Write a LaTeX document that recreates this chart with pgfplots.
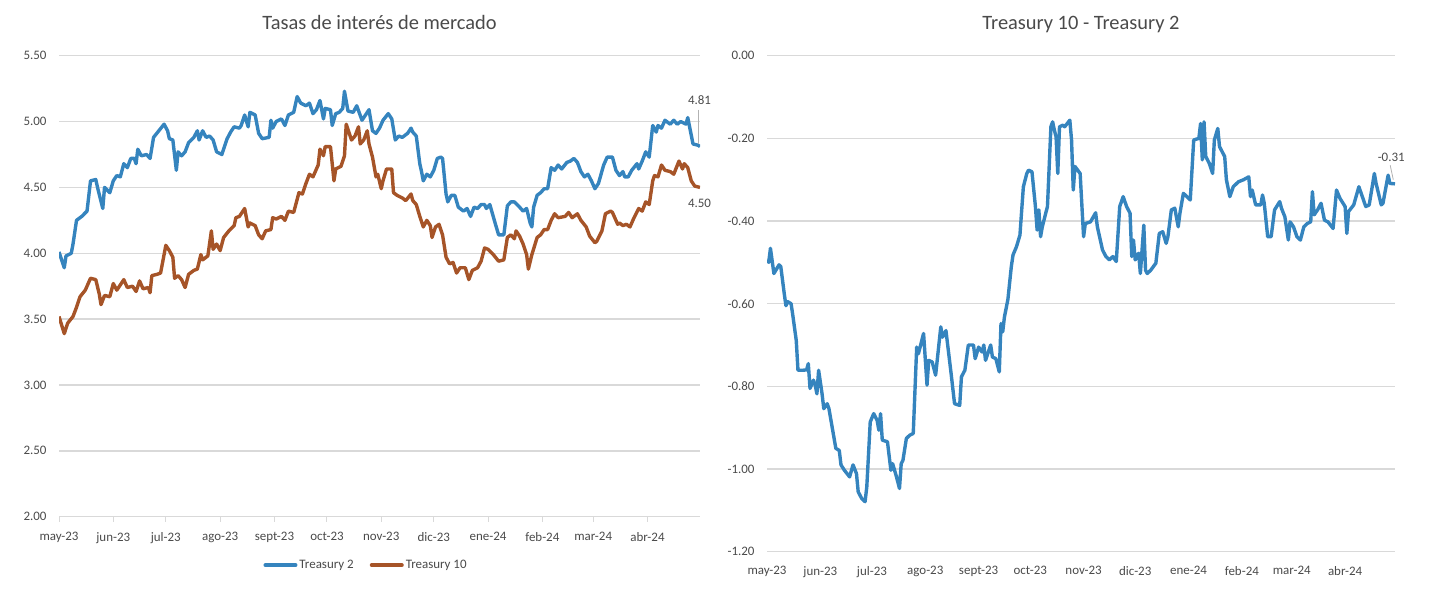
\documentclass[border=0pt]{standalone}
\usepackage{pgfplots}
\pgfplotsset{compat=1.18}
\usepackage{fontspec}
\setmainfont{Carlito}
\definecolor{tblue}{HTML}{3584BE}
\definecolor{tbrown}{HTML}{A65428}
\definecolor{txt}{HTML}{4A4A4A}
\definecolor{grd}{HTML}{D9D9D9}
\pgfplotsset{
  common/.style={
    scale only axis, clip mode=individual,
    axis x line*=bottom, axis y line*=left,
    y axis line style={draw=none},
    x axis line style={draw=grd, line width=1.5bp},
    ymajorgrids, grid style={draw=grd, line width=1.5bp},
    ytick style={draw=none},
    tick label style={font=\fontsize{13}{15}\selectfont, text=txt},
    yticklabel style={xshift=-9bp},
    /pgf/number format/assume math mode=true,
    yticklabel={\pgfmathprintnumber[fixed, fixed zerofill, precision=2]{\tick}},
    xtick={0,31,61,92,123,153,184,214,245,276,305,336},
    xticklabels={may-23,jun-23,jul-23,ago-23,sept-23,oct-23,nov-23,dic-23,ene-24,feb-24,mar-24,abr-24},
    title style={font=\fontsize{20.5}{24}\selectfont, text=txt, at={(0.5,1)}, anchor=base, yshift=20bp},
    every axis plot/.append style={line width=3.4bp, line join=round, no markers},
  }
}
\begin{document}
\begin{tikzpicture}
\path[use as bounding box] (0,0) rectangle (1432bp,602bp);
% Left chart
\begin{axis}[common,
  at={(59bp,85.3bp)}, anchor=south west,
  width=641bp, height=461bp,
  xmin=0, xmax=366, ymin=2, ymax=5.5,
  ytick={2,2.5,3,3.5,4,4.5,5,5.5},
  xtick style={draw=grd, line width=1bp},
  xtick align=outside, major tick length=5bp,
  xticklabel style={yshift=-7bp},
  title={Tasas de interés de mercado},
  legend style={at={(0.479,-0.105)}, anchor=center, draw=none, legend columns=2,
    font=\fontsize{13}{15}\selectfont, text=txt,
    /tikz/every even column/.append style={column sep=14bp}},
  legend image code/.code={\draw[#1, line width=4bp, line cap=round] (0bp,0bp) -- (30bp,0bp);},
]
\addplot[tblue] coordinates {
(0,4.01)(3,3.89)(4,3.98)(7,4.00)(8,4.07)(10,4.25)(13,4.28)(16,4.32)(18,4.55)(21,4.56)
(22,4.50)(25,4.34)(26,4.50)(29,4.46)(31,4.55)(33,4.59)(35,4.58)(37,4.68)(39,4.65)(41,4.72)
(43,4.72)(44,4.68)(45,4.79)(47,4.74)(50,4.75)(52,4.72)(54,4.88)(57,4.93)(60,4.98)(62,4.93)
(63,4.87)(65,4.86)(67,4.63)(68,4.77)(70,4.74)(72,4.77)(74,4.84)(77,4.88)(79,4.93)(80,4.86)
(82,4.93)(84,4.88)(86,4.89)(88,4.86)(90,4.77)(93,4.75)(96,4.87)(98,4.92)(100,4.96)(103,4.95)
(104,4.97)(106,5.05)(108,4.96)(109,5.07)(112,5.05)(114,4.91)(116,4.87)(120,4.88)(121,5.01)(122,4.95)
(124,5.00)(127,5.02)(129,4.97)(131,5.05)(134,5.07)(136,5.19)(138,5.14)(141,5.12)(143,5.14)(145,5.06)
(147,5.09)(149,5.16)(151,5.02)(152,5.10)(155,5.09)(156,4.97)(158,5.06)(160,5.07)(162,5.10)(163,5.23)
(165,5.08)(168,5.07)(170,5.12)(173,5.01)(174,5.03)(177,5.09)(179,4.93)(181,4.91)(183,4.95)(185,5.01)
(188,5.06)(190,5.02)(192,4.86)(194,4.89)(196,4.88)(199,4.91)(201,4.95)(202,4.92)(204,4.89)(206,4.68)
(207,4.62)(208,4.55)(210,4.60)(212,4.58)(214,4.63)(216,4.72)(218,4.73)(219,4.72)(221,4.45)(222,4.39)
(224,4.44)(226,4.44)(228,4.35)(231,4.32)(233,4.34)(235,4.28)(237,4.35)(239,4.34)(241,4.37)(243,4.37)
(244,4.34)(246,4.37)(249,4.23)(251,4.14)(254,4.14)(256,4.36)(258,4.39)(260,4.39)(263,4.35)(265,4.32)
(267,4.34)(269,4.23)(270,4.20)(271,4.35)(273,4.44)(275,4.46)(277,4.49)(279,4.49)(281,4.65)(283,4.63)
(285,4.67)(287,4.64)(290,4.69)(292,4.70)(294,4.72)(296,4.69)(298,4.62)(300,4.58)(302,4.60)(304,4.55)
(306,4.49)(308,4.53)(311,4.67)(313,4.73)(316,4.73)(318,4.63)(320,4.59)(322,4.62)(323,4.58)(325,4.58)
(327,4.63)(330,4.68)(331,4.64)(333,4.70)(335,4.77)(337,4.73)(339,4.97)(341,4.92)(342,4.97)(344,4.95)
(346,5.01)(349,4.98)(351,5.01)(353,4.98)(355,5.00)(358,4.98)(359,5.03)(362,4.83)(365,4.82)(366,4.81)
};
\addlegendentry{Treasury 2}
\addplot[tbrown] coordinates {
(0,3.52)(3,3.39)(5,3.47)(8,3.52)(10,3.59)(12,3.67)(15,3.72)(16,3.75)(18,3.81)(21,3.80)
(23,3.69)(24,3.61)(26,3.68)(29,3.67)(31,3.77)(33,3.72)(37,3.80)(39,3.74)(42,3.75)(44,3.71)
(46,3.79)(48,3.73)(51,3.74)(52,3.70)(53,3.83)(56,3.84)(58,3.85)(61,4.06)(63,4.02)(65,3.97)
(66,3.81)(68,3.83)(70,3.80)(72,3.74)(74,3.84)(77,3.87)(79,3.88)(81,3.99)(82,3.95)(85,3.98)
(87,4.17)(88,4.03)(90,4.07)(92,4.02)(94,4.12)(97,4.17)(100,4.21)(101,4.27)(103,4.28)(106,4.34)
(108,4.20)(109,4.23)(112,4.21)(114,4.14)(116,4.11)(118,4.17)(121,4.18)(122,4.27)(124,4.26)(127,4.28)
(129,4.25)(131,4.32)(134,4.31)(137,4.46)(139,4.45)(141,4.53)(143,4.60)(145,4.58)(148,4.67)(149,4.79)
(151,4.74)(152,4.81)(155,4.81)(157,4.55)(158,4.64)(161,4.66)(163,4.74)(164,4.98)(167,4.86)(169,4.89)
(171,4.96)(172,4.83)(174,4.86)(176,4.93)(177,4.83)(179,4.73)(181,4.58)(182,4.60)(184,4.49)(185,4.55)
(187,4.64)(190,4.64)(191,4.46)(193,4.44)(196,4.42)(198,4.40)(201,4.45)(202,4.40)(204,4.37)(206,4.28)
(208,4.20)(210,4.25)(212,4.21)(213,4.12)(215,4.20)(217,4.22)(219,4.14)(221,3.97)(223,3.92)(225,3.93)
(227,3.85)(229,3.89)(232,3.89)(234,3.80)(236,3.87)(239,3.89)(241,3.94)(243,4.04)(245,4.03)(248,3.99)
(251,3.94)(254,3.95)(256,4.12)(258,4.14)(260,4.11)(261,4.17)(263,4.13)(265,4.07)(267,3.99)(268,3.88)
(270,3.99)(273,4.12)(275,4.14)(277,4.18)(279,4.18)(281,4.25)(283,4.30)(285,4.27)(289,4.28)(291,4.31)
(293,4.27)(296,4.30)(298,4.25)(301,4.20)(303,4.13)(306,4.08)(307,4.09)(310,4.17)(312,4.30)(315,4.32)
(316,4.31)(319,4.22)(320,4.23)(322,4.21)(324,4.22)(326,4.20)(328,4.26)(331,4.34)(333,4.32)(335,4.39)
(337,4.37)(339,4.55)(340,4.59)(342,4.58)(344,4.67)(346,4.63)(349,4.62)(351,4.60)(354,4.70)(356,4.64)
(357,4.68)(359,4.65)(361,4.55)(363,4.51)(366,4.50)
};
\addlegendentry{Treasury 10}
\draw[gray!60, line width=0.8bp] (axis cs:364.9,5.09) -- (axis cs:364.9,4.83);
\node[font=\fontsize{13}{15}\selectfont, text=txt] at (axis cs:365.7,5.164) {4.81};
\node[font=\fontsize{13}{15}\selectfont, text=txt] at (axis cs:365.7,4.382) {4.50};
\end{axis}
% Right chart
\begin{axis}[common,
  at={(767bp,50.3bp)}, anchor=south west,
  width=628bp, height=496bp,
  xmin=0, xmax=365, ymin=-1.2, ymax=0,
  ytick={-1.2,-1,-0.8,-0.6,-0.4,-0.2,0},
  xtick style={draw=none},
  xticklabel style={yshift=-11bp},
  title={Treasury 10 - Treasury 2},
]
\addplot[tblue] coordinates {
(0,-0.494)(1,-0.50)(2,-0.466)(4,-0.527)(5,-0.52)(7,-0.506)(8,-0.51)(10,-0.575)(11,-0.605)(12,-0.595)
(14,-0.60)(15,-0.628)(17,-0.689)(18,-0.761)(21,-0.761)(23,-0.76)(24,-0.745)(25,-0.805)(27,-0.785)(28,-0.797)
(29,-0.818)(30,-0.761)(32,-0.818)(33,-0.854)(35,-0.842)(36,-0.854)(38,-0.902)(40,-0.95)(42,-0.955)(43,-0.99)
(45,-1.003)(48,-1.019)(50,-0.99)(52,-1.011)(53,-1.055)(55,-1.071)(57,-1.079)(58,-1.043)(60,-0.886)(62,-0.866)
(64,-0.882)(65,-0.906)(66,-0.866)(67,-0.93)(70,-0.934)(72,-1.003)(73,-0.987)(75,-1.015)(77,-1.047)(78,-0.987)
(79,-0.979)(81,-0.926)(83,-0.918)(85,-0.914)(87,-0.705)(88,-0.721)(91,-0.672)(93,-0.797)(94,-0.737)(96,-0.741)
(98,-0.773)(101,-0.656)(102,-0.681)(104,-0.665)(107,-0.769)(109,-0.842)(112,-0.846)(113,-0.777)(115,-0.761)(117,-0.70)
(120,-0.70)(121,-0.733)(123,-0.705)(125,-0.717)(126,-0.70)(127,-0.737)(130,-0.70)(131,-0.729)(133,-0.733)(135,-0.765)
(136,-0.648)(137,-0.668)(138,-0.632)(140,-0.59)(142,-0.51)(143,-0.482)(145,-0.462)(147,-0.434)(149,-0.317)(151,-0.285)
(152,-0.277)(154,-0.281)(156,-0.365)(157,-0.422)(158,-0.373)(159,-0.438)(160,-0.414)(162,-0.381)(163,-0.365)(165,-0.172)
(166,-0.16)(167,-0.18)(168,-0.196)(169,-0.285)(170,-0.172)(172,-0.168)(173,-0.172)(176,-0.156)(177,-0.204)(178,-0.325)
(179,-0.268)(182,-0.285)(184,-0.438)(185,-0.406)(188,-0.402)(191,-0.38)(192,-0.414)(195,-0.47)(197,-0.486)(199,-0.494)
(201,-0.486)(203,-0.498)(205,-0.365)(207,-0.341)(209,-0.365)(211,-0.381)(212,-0.486)(213,-0.446)(214,-0.494)(216,-0.478)
(217,-0.527)(219,-0.41)(220,-0.519)(221,-0.527)(223,-0.519)(226,-0.502)(228,-0.43)(230,-0.426)(232,-0.454)(233,-0.438)
(235,-0.373)(237,-0.369)(239,-0.414)(240,-0.381)(242,-0.333)(244,-0.341)(246,-0.349)(248,-0.204)(251,-0.20)(252,-0.164)
(253,-0.252)(254,-0.16)(255,-0.244)(257,-0.26)(259,-0.285)(260,-0.204)(262,-0.176)(263,-0.22)(266,-0.244)(267,-0.30)
(269,-0.341)(271,-0.317)(274,-0.305)(277,-0.30)(280,-0.293)(281,-0.341)(282,-0.325)(284,-0.361)(287,-0.361)(288,-0.337)
(289,-0.357)(291,-0.438)(293,-0.438)(295,-0.373)(298,-0.353)(299,-0.369)(301,-0.39)(303,-0.446)(304,-0.402)(306,-0.414)
(308,-0.438)(310,-0.446)(312,-0.414)(314,-0.406)(316,-0.402)(317,-0.329)(318,-0.385)(320,-0.373)(322,-0.357)(324,-0.398)
(326,-0.402)(329,-0.418)(331,-0.325)(333,-0.345)(336,-0.365)(337,-0.43)(338,-0.377)(341,-0.361)(344,-0.317)(346,-0.341)
(348,-0.365)(350,-0.361)(353,-0.285)(354,-0.309)(357,-0.361)(358,-0.357)(361,-0.289)(362,-0.309)(365,-0.31)
};
\draw[gray!60, line width=0.8bp] (axis cs:362.2,-0.265) -- (axis cs:364,-0.30);
\node[font=\fontsize{13}{15}\selectfont, text=txt] at (axis cs:362.8,-0.245) {-0.31};
\end{axis}
\end{tikzpicture}
\end{document}
